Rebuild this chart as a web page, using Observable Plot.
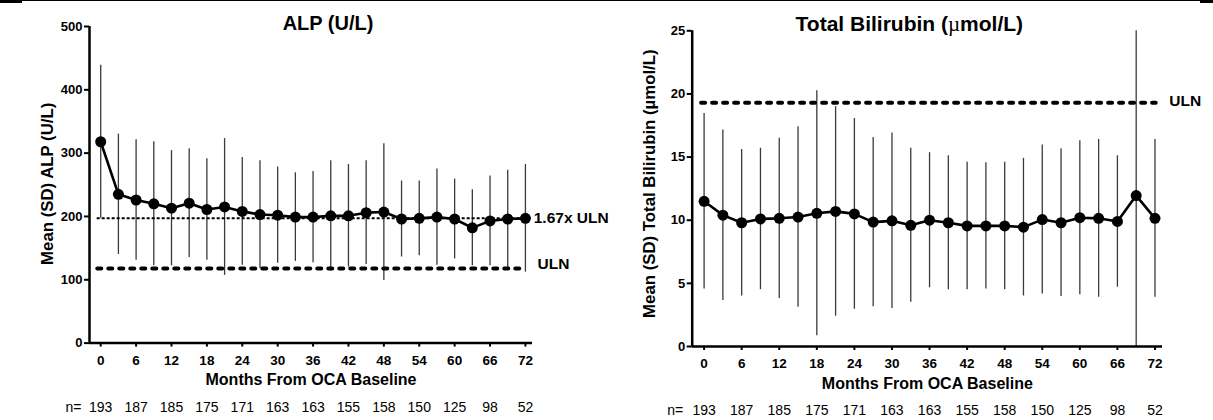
<!DOCTYPE html>
<html><head><meta charset="utf-8">
<script src="https://cdn.jsdelivr.net/npm/d3@7"></script>
<script src="https://cdn.jsdelivr.net/npm/@observablehq/plot@0.6"></script>
<style>
html,body{margin:0;padding:0;background:#fff;}
#wrap{position:relative;width:1213px;height:420px;overflow:hidden;background:#fff;}
#left{position:absolute;left:0;top:0;}
#right{position:absolute;left:606px;top:0;}
.topline{position:absolute;left:0;top:0;width:1213px;height:1px;background:#000;}
.blk{position:absolute;top:0;height:3px;background:#000;}
</style></head><body>
<div id="wrap"><div class="topline"></div><div class="blk" style="left:0;width:22px"></div><div class="blk" style="left:1200px;width:13px"></div><div id="left"></div><div id="right"></div></div>
<script>
// Visit months (every 3 months)
const months = [0,3,6,9,12,15,18,21,24,27,30,33,36,39,42,45,48,51,54,57,60,63,66,69,72];
// Labelled months and sample sizes
const nMonths = [0,6,12,18,24,30,36,42,48,54,60,66,72];
const nValues = [193,187,185,175,171,163,163,155,158,150,125,98,52];

// ALP (U/L)
const alpMean = [318,235,226,220,213,221,211,215,208,203,202,199,199,201,201,206,207,196,197,199,196,182,193,196,197];
const alpSD   = [121,95,95,98,91,86,80,108,85,85,76,70,72,87,81,82,108,60,59,76,63,60,71,77,85];
const alpTicks = [0,100,200,300,400,500];
const alpULN = 118;
const alpULN167 = 197;

// Total bilirubin (µmol/L)
const bilMean = [11.5,10.4,9.8,10.1,10.15,10.25,10.55,10.7,10.5,9.85,9.95,9.6,10.0,9.8,9.55,9.55,9.55,9.45,10.05,9.8,10.2,10.15,9.9,11.95,10.15];
const bilSD   = [6.95,6.75,5.8,5.6,6.35,7.15,9.7,8.3,7.55,6.7,6.95,6.1,5.35,5.3,5.05,5.0,5.05,5.45,5.9,5.85,6.1,6.25,5.2,13.5,6.25];
const bilTicks = [0,5,10,15,20,25];
const bilULN = 19.3;

const xDomain = [-1.9, 73.2];
const FONT = "'Liberation Sans', Arial, sans-serif";
const NARROW = "'Liberation Sans Narrow', 'Arial Narrow', 'Liberation Sans', sans-serif";

function chart(o) {
  const data = months.map((m, i) => ({
    m, mean: o.mean[i],
    lo: Math.max(o.yDomain[0], o.mean[i] - o.sd[i]),
    hi: Math.min(o.yDomain[1], o.mean[i] + o.sd[i])
  }));
  const nMap = new Map(nMonths.map((m, i) => [m, nValues[i]]));
  return Plot.plot({
    width: o.width, height: 420,
    marginLeft: o.marginLeft, marginRight: o.marginRight,
    marginTop: o.marginTop, marginBottom: o.marginBottom,
    style: {fontFamily: FONT, background: "transparent", overflow: "visible", color: "#000"},
    x: {domain: xDomain},
    y: {domain: o.yDomain},
    marks: [
      Plot.ruleX(data, {x: "m", y1: "lo", y2: "hi", stroke: "#3a3a3a", strokeWidth: 1.3}),
      ...o.refs,
      Plot.line(data, {x: "m", y: "mean", stroke: "#000", strokeWidth: 2.6}),
      Plot.dot(data, {x: "m", y: "mean", r: 5.5, fill: "#000", stroke: "none"}),
      Plot.ruleX([xDomain[0]], {stroke: "#000", strokeWidth: 2.5}),
      Plot.ruleY([o.yDomain[0]], {stroke: "#000", strokeWidth: 2.5}),
      Plot.axisY({ticks: o.yTicks, tickSize: 5, tickPadding: 2, strokeWidth: 2, fontSize: 13, fontWeight: "bold", label: null}),
      Plot.axisX({ticks: nMonths, tickSize: 4, tickPadding: 8, strokeWidth: 2, fontSize: 13.5, fontWeight: "bold", label: null}),
      Plot.axisX({ticks: nMonths, tickSize: 0, tickPadding: 59, tickFormat: d => nMap.get(d), fontSize: 14, fontFamily: NARROW, label: null}),
      Plot.text(["n="], {frameAnchor: "bottom-left", dx: o.nDx, dy: 64, textAnchor: "end", lineAnchor: "middle", fontSize: 14, fontFamily: NARROW}),
      Plot.text([o.title], {frameAnchor: "top", dx: o.titleDx, dy: o.titleDy, textAnchor: "middle", lineAnchor: "middle", fontSize: o.titleSize, fontWeight: "bold"}),
      Plot.text([o.ylabel], {frameAnchor: "left", rotate: -90, dx: o.ylabelDx, dy: o.ylabelDy, textAnchor: "middle", lineAnchor: "middle", fontSize: 16.8, fontWeight: "bold"}),
      Plot.text(["Months From OCA Baseline"], {frameAnchor: "bottom", dy: 37, textAnchor: "middle", lineAnchor: "middle", fontSize: 16, fontWeight: "bold"})
    ]
  });
}

const left = chart({
  width: 606, marginLeft: 89, marginRight: 74, marginTop: 26, marginBottom: 77.4,
  yDomain: [0, 500], yTicks: alpTicks, mean: alpMean, sd: alpSD,
  title: "ALP (U/L)", titleDx: 17, titleDy: -3, titleSize: 20,
  ylabel: "Mean (SD) ALP (U/L)", ylabelDx: -42, ylabelDy: -1, nDx: -8,
  refs: [
    Plot.ruleY([alpULN167], {x1: -0.6, x2: 72.9, stroke: "#000", strokeWidth: 2, strokeDasharray: "3,2"}),
    Plot.ruleY([alpULN], {x1: -0.5, x2: 72.2, stroke: "#000", strokeWidth: 4, strokeDasharray: "4,7", strokeLinecap: "round"}),
    Plot.text(["1.67x ULN"], {x: 72.9, y: alpULN167, dx: 3, textAnchor: "start", lineAnchor: "middle", fontSize: 15.5, fontWeight: "bold"}),
    Plot.text(["ULN"], {x: 72.2, y: alpULN, dx: 11, dy: -4, textAnchor: "start", lineAnchor: "middle", fontSize: 15.5, fontWeight: "bold"})
  ]
});
document.getElementById("left").appendChild(left);

const right = chart({
  width: 607, marginLeft: 85.7, marginRight: 51, marginTop: 30.3, marginBottom: 74,
  yDomain: [0, 25], yTicks: bilTicks, mean: bilMean, sd: bilSD,
  title: "Total Bilirubin (µmol/L)", titleDx: -18, titleDy: -7, titleSize: 21,
  ylabel: "Mean (SD) Total Bilirubin (µmol/L)", ylabelDx: -43, ylabelDy: -5, nDx: -9,
  refs: [
    Plot.ruleY([bilULN], {x1: -0.4, x2: 72.2, stroke: "#000", strokeWidth: 4, strokeDasharray: "4,7", strokeLinecap: "round"}),
    Plot.text(["ULN"], {x: 72.2, y: bilULN, dx: 13, dy: -2, textAnchor: "start", lineAnchor: "middle", fontSize: 15.5, fontWeight: "bold"})
  ]
});
document.getElementById("right").appendChild(right);

// Render the micro sign of the right title in a light serif face, as in the source
d3.select(right).selectAll("text").each(function() {
  if (this.textContent === "Total Bilirubin (µmol/L)") {
    const el = d3.select(this);
    el.text(null);
    el.append("tspan").text("Total Bilirubin (");
    el.append("tspan").attr("font-family", "'Liberation Serif', serif").attr("font-weight", "normal").text("µ");
    el.append("tspan").text("mol/L)");
  }
});
</script>
</body></html>
